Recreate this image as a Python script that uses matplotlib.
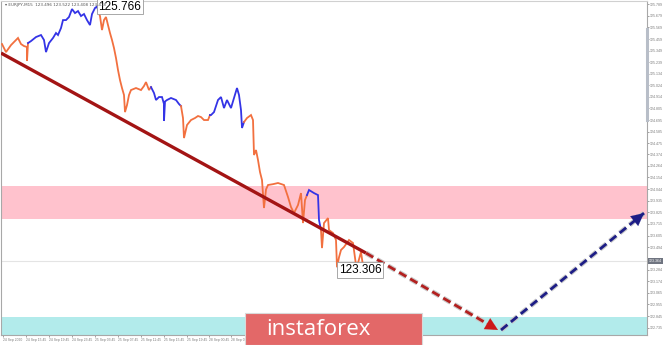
import matplotlib
matplotlib.use("Agg")
import matplotlib.pyplot as plt
from matplotlib.patches import Rectangle
import matplotlib.patheffects as pe

# ---------------- data ----------------
bar_x = [1, 5, 10, 13, 17, 20, 23, 26, 26, 27,
         30, 35, 40, 43, 45, 48, 52, 55, 57, 60, 62, 65, 68, 71, 74, 77, 80, 83, 86, 89, 91, 94, 96, 98,
         99, 101, 103, 105, 107, 109, 111, 113, 115, 117, 119, 121, 123, 124, 126, 128, 130, 135, 140, 143, 145, 148, 150,
         153, 155, 158, 161, 163, 163, 164, 166, 170, 175, 178, 180,
         182, 183, 186, 190, 194, 197, 200, 203, 207, 209,
         210, 213, 217, 220, 223, 226, 230, 233, 236, 238, 240, 241,
         243, 246, 250, 252, 253, 255, 257, 259, 261, 263, 265, 267, 272, 277, 283, 287, 290, 293, 297, 300, 302, 304,
         306, 308, 313, 317, 318,
         320, 321, 323, 327, 328, 332, 335, 336, 338, 340, 343, 348, 352, 355, 357, 360, 362]
price = [125.412, 125.336, 125.402, 125.431, 125.469, 125.412, 125.393, 125.384, 125.252, 125.421,
         125.440, 125.478, 125.497, 125.450, 125.336, 125.421, 125.469, 125.516, 125.497, 125.563, 125.638, 125.638,
         125.667, 125.742, 125.704, 125.723, 125.676, 125.695, 125.638, 125.591, 125.695, 125.752, 125.766, 125.704,
         125.676, 125.544, 125.638, 125.667, 125.591, 125.516, 125.450, 125.374, 125.280, 125.167, 125.072, 124.997,
         124.931, 124.770, 124.836, 124.931, 124.978, 124.997, 124.978, 125.016, 125.053, 124.978, 125.006,
         124.950, 124.884, 124.912, 124.912, 124.846, 124.686, 124.870, 124.884, 124.903, 124.884, 124.846, 124.827,
         124.714, 124.525, 124.648, 124.695, 124.714, 124.733, 124.723, 124.695, 124.695, 124.742,
         124.742, 124.770, 124.884, 124.912, 124.808, 124.884, 124.808, 124.903, 124.997, 124.931, 124.789, 124.620,
         124.676, 124.714, 124.742, 124.695, 124.365, 124.412, 124.318, 124.204, 124.129, 123.865, 124.040, 124.082,
         124.090, 124.101, 124.082, 123.969, 123.874, 123.818, 123.893, 124.006, 123.723, 123.940,
         123.987, 124.035, 124.006, 123.987, 123.752,
         123.657, 123.487, 123.723, 123.770, 123.657, 123.629, 123.563, 123.306, 123.400, 123.469, 123.497, 123.563,
         123.535, 123.327, 123.346, 123.450, 123.320]
# wave boundaries (index into bar_x) and colours
wave_start = [0, 9, 33, 56, 68, 78, 91, 113, 118]
wave_end = [9, 33, 56, 68, 78, 91, 113, 118, 136]
wave_dir = ["down", "up", "down", "up", "down", "up", "down", "up", "down"]

trend_x = [0, 365]
trend_p = [125.327, 123.440]
fcst_down_x = [365, 497]
fcst_down_p = [123.440, 122.714]
fcst_up_x = [500, 643]
fcst_up_p = [122.714, 123.817]

resist_zone = [123.761, 124.072]
support_zone = [122.600, 122.836]
current_price = 123.364
high_label = "125.766"
low_label = "123.306"

y_ticks = [125.789, 125.679, 125.569, 125.459, 125.349, 125.239, 125.134, 125.024, 124.914, 124.805,
           124.695, 124.585, 124.475, 124.374, 124.264, 124.154, 124.044, 123.935, 123.825, 123.715,
           123.605, 123.494, 123.284, 123.174, 123.065, 122.955, 122.845, 122.735]
x_tick_pos = [2, 25, 48, 71, 94, 117, 140, 163, 186, 208, 230]
x_tick_lab = ["24 Sep 2020", "24 Sep 15:45", "24 Sep 19:45", "24 Sep 23:45", "25 Sep 03:45", "25 Sep 07:45",
              "25 Sep 11:45", "25 Sep 15:45", "25 Sep 19:45", "28 Sep 00:45", "28 Sep 04:45"]

# ---------------- figure ----------------
W, H = 665, 345
fig = plt.figure(figsize=(W / 100, H / 100), dpi=100)
fig.patch.set_facecolor("white")
ax = fig.add_axes([1 / W, 10 / H, 646 / W, 334 / H])
ax.set_xlim(0, 646)
ax.set_ylim(122.667, 125.818)

# zones
ax.axhspan(resist_zone[0], resist_zone[1], color="#ffc2cd", zorder=1, lw=0)
ax.axhspan(support_zone[0], support_zone[1], color="#b2ebeb", zorder=1, lw=0)
ax.axhline(current_price, color="#e4e4e4", lw=0.8, zorder=1.5)

# price waves
colors = {"down": "#f2703f", "up": "#3434e6"}
for s, e, d in zip(wave_start, wave_end, wave_dir):
    ax.plot(bar_x[s:e + 1], price[s:e + 1], color=colors[d], lw=1.3, zorder=3,
            solid_joinstyle="miter")

# trend line
ax.plot(trend_x, trend_p, color="#a31414", lw=2.4, zorder=4, solid_capstyle="butt")

# forecast arrows
halo = [pe.withStroke(linewidth=3.6, foreground="#c8c8c8")]
ax.plot(fcst_down_x, fcst_down_p, color="#b3201f", lw=2.0, ls=(0, (3, 1.6)), zorder=5, path_effects=halo)
ax.annotate("", xy=(fcst_down_x[1], fcst_down_p[1]),
            xytext=(fcst_down_x[1] - 12, fcst_down_p[1] + 12 * (fcst_down_p[0] - fcst_down_p[1]) / (fcst_down_x[1] - fcst_down_x[0])),
            arrowprops=dict(arrowstyle="-|>,head_length=0.9,head_width=0.45", color="#cc1a1a", lw=0.1,
                            shrinkA=0, shrinkB=0), zorder=6)
ax.plot(fcst_up_x, fcst_up_p, color="#1d1d86", lw=2.0, ls=(0, (3, 1.6)), zorder=5, path_effects=halo)
ax.annotate("", xy=(fcst_up_x[1], fcst_up_p[1]),
            xytext=(fcst_up_x[1] - 12, fcst_up_p[1] - 12 * (fcst_up_p[1] - fcst_up_p[0]) / (fcst_up_x[1] - fcst_up_x[0])),
            arrowprops=dict(arrowstyle="-|>,head_length=0.9,head_width=0.45", color="#1d1d86", lw=0.1,
                            shrinkA=0, shrinkB=0), zorder=6)

# high / low labels
box = dict(boxstyle="square,pad=0.15", fc="white", ec="#9a9a9a", lw=0.6)
ax.text(97.5, 125.766, high_label, fontsize=8.5, family="Liberation Sans", ha="left", va="center",
        bbox=box, zorder=7)
ax.text(338, 123.28, low_label, fontsize=8.5, family="Liberation Sans", ha="left", va="center",
        bbox=box, zorder=7)

# title
ax.text(4, 125.80, "\u25be EURJPY,M15  123.496 123.522 123.408 123.418", fontsize=3, color="#555555",
        ha="left", va="top", zorder=7)

# axes styling
for sp in ["left", "bottom", "right", "top"]:
    ax.spines[sp].set_color("#a8a8a8")
    ax.spines[sp].set_linewidth(0.8)
ax.spines["top"].set_color("#d0d0d0")
ax.yaxis.tick_right()
ax.set_yticks(y_ticks)
ax.set_yticklabels([f"{v:.3f}" for v in y_ticks], family="Liberation Sans")
ax.tick_params(axis="y", labelsize=2.6, colors="#7a7a7a", length=1.2, pad=0.8, width=0.5)
ax.set_xticks(x_tick_pos)
ax.set_xticklabels(x_tick_lab, ha="left", family="Liberation Sans")
ax.tick_params(axis="x", labelsize=2.4, colors="#7a7a7a", length=1.2, pad=1.2, width=0.5)

# current price tag on scale
ax.text(1.003, current_price, f"{current_price:.3f}", transform=ax.get_yaxis_transform(),
        fontsize=2.6, family="Liberation Sans", color="white", ha="left", va="center",
        bbox=dict(boxstyle="square,pad=0.2", fc="#6f7480", ec="none"), zorder=8, clip_on=False)

# scroll indicator on right scale
ax.plot([1.0, 1.0], [125.55, 124.70], transform=ax.get_yaxis_transform(), color="#b8bec8", lw=2.2,
        clip_on=False, zorder=8)

# logo
fig.patches.append(Rectangle((245 / W, 0), 177 / W, 32 / H, transform=fig.transFigure,
                             fc="#e36868", ec="#d9d9d9", lw=0.8, zorder=10))
fig.text(318.5 / W, 15.5 / H, "instaforex", color="white", fontsize=16, family="Open Sans",
         ha="center", va="center", zorder=11)

fig.savefig("out.png", dpi=100)
